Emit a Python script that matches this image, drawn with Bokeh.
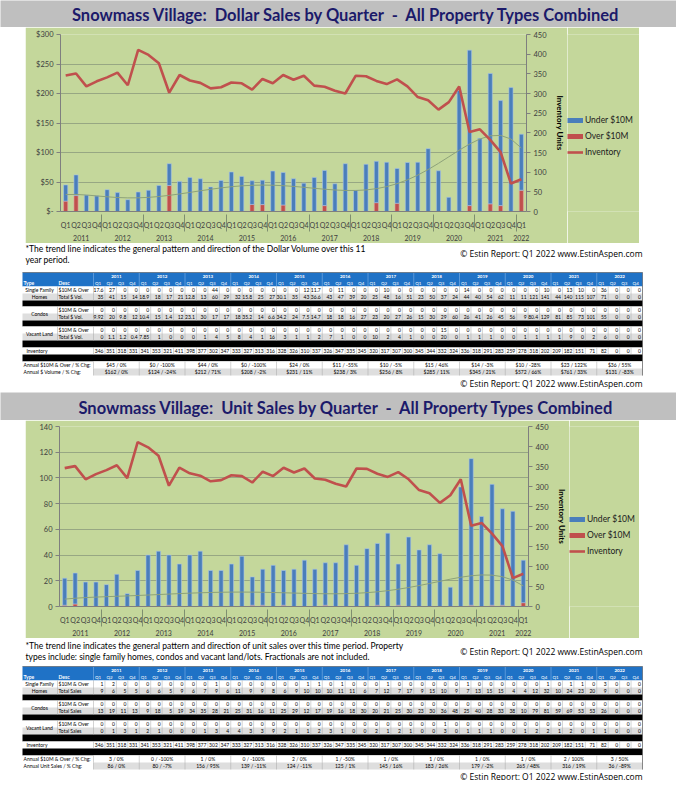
import numpy as np
from bokeh.plotting import figure
from bokeh.models import (Range1d, LinearAxis, FactorRange, FixedTicker, Legend, LegendItem,
                          ColumnDataSource, Spacer)
from bokeh.layouts import column, row
from bokeh.core.properties import value
from bokeh.embed import file_html
from bokeh.resources import INLINE

# ---------------- data ----------------
YEARS = [str(y) for y in range(2011, 2023)]
QUARTERS = ["Q1", "Q2", "Q3", "Q4"]
PERIODS = [(y, q) for y in YEARS for q in QUARTERS][:45]

# Dollar sales ($M) per quarter, all property types
dollar_total = [45, 62, 28, 26.5, 37, 32, 20, 33, 36, 44, 81, 51,
                57.5, 55.5, 41.5, 52.5, 67, 59.5, 52, 53, 68.5, 66, 55.5, 48,
                57.5, 69.5, 47, 81, 36, 80, 85, 83.5, 73, 83, 83.5, 106.5,
                69, 24, 205, 273.5, 124, 234, 188, 210, 131]
dollar_over = [17.6, 27, 0, 0, 0, 0, 0, 0, 0, 0, 44, 0,
               0, 0, 0, 0, 0, 0, 12, 11.7, 0, 11, 0, 0,
               0, 10, 0, 0, 0, 0, 15, 0, 14, 0, 0, 0,
               0, 0, 0, 10, 0, 13, 10, 0, 36]
# Unit sales per quarter
unit_total = [22, 26, 19, 19, 17, 25, 10, 28, 40, 43, 40, 33,
              40, 43, 28, 28, 33, 39, 23, 29, 32, 28, 29, 36,
              29, 34, 34, 48, 32, 45, 49, 57, 33, 54, 44, 48,
              41, 15, 93, 115, 70, 95, 76, 74, 36]
unit_over = [1, 2, 0, 0, 0, 0, 0, 0, 0, 0, 1, 0,
             0, 0, 0, 0, 0, 0, 1, 1, 0, 1, 0, 0,
             0, 1, 0, 0, 0, 0, 1, 0, 1, 0, 0, 0,
             0, 0, 0, 1, 0, 1, 1, 0, 3]
inventory = [346, 351, 318, 331, 341, 353, 321, 411, 398, 377, 302, 347,
             333, 327, 313, 316, 328, 326, 310, 337, 326, 347, 335, 345,
             320, 317, 307, 300, 345, 344, 332, 324, 336, 318, 291, 283,
             259, 278, 318, 202, 209, 182, 151, 71, 82]

# table values (48 columns, 2011 Q1 .. 2022 Q4)
d_sf_over = [17.6, 27, 0, 0, 0, 0, 0, 0, 0, 0, 44, 0, 0, 0, 0, 0, 0, 0, 12, 11.7, 0, 11, 0, 0,
             0, 10, 0, 0, 0, 0, 0, 0, 14, 0, 0, 0, 0, 0, 0, 10, 0, 13, 10, 0, 36, 0, 0, 0]
d_sf_tot = [35, 41, 15, 14, 18.9, 18, 17, 21, 12.8, 13, 60, 29, 32, 15.8, 25, 27, 30.1, 35, 43, 36.6,
            43, 47, 39, 20, 25, 48, 16, 51, 23, 50, 37, 24, 44, 40, 54, 62, 11, 11, 121, 141,
            44, 140, 115, 107, 71, 0, 0, 0]
d_co_over = [0] * 48
d_co_tot = [9.92, 20, 9.8, 12, 10.4, 15, 1.4, 12, 23.1, 30, 17, 17, 18, 35.2, 14, 6.6, 34.2, 24, 7.5, 14.7,
            18, 18, 16, 27, 23, 20, 27, 26, 15, 30, 29, 60, 26, 41, 26, 45, 56, 9, 80.4, 129,
            81, 85, 73, 101, 55, 0, 0, 0]
d_vl_over = [0] * 30 + [15] + [0] * 17
d_vl_tot = [0, 1.1, 1.2, 0.4, 7.85, 1, 0, 0, 0, 1, 4, 5, 8, 4, 1, 16, 3, 1, 1, 2, 7, 1, 0, 0,
            10, 2, 4, 1, 0, 0, 20, 0, 1, 1, 1, 0, 0, 1, 1, 1, 1, 9, 0, 2, 6, 0, 0, 0]
d_ann_over = ["$45 / 0%", "$0 / -100%", "$44 / 0%", "$0 / -100%", "$24 / 0%", "$11 / -55%",
              "$10 / -5%", "$15 / 46%", "$14 / -3%", "$10 / -28%", "$23 / 122%", "$36 / 55%"]
d_ann_tot = ["$162 / 0%", "$124 / -24%", "$212 / 71%", "$208 / -2%", "$231 / 11%", "$238 / 3%",
             "$256 / 8%", "$285 / 11%", "$345 / 21%", "$572 / 66%", "$761 / 33%", "$131 / -83%"]

u_sf_over = [1, 2, 0, 0, 0, 0, 0, 0, 0, 0, 1, 0, 0, 0, 0, 0, 0, 0, 1, 1, 0, 1, 0, 0,
             0, 1, 0, 0, 0, 0, 0, 0, 1, 0, 0, 0, 0, 0, 0, 1, 0, 1, 1, 0, 3, 0, 0, 0]
u_sf_tot = [9, 6, 5, 5, 6, 6, 5, 9, 6, 7, 9, 6, 11, 9, 9, 8, 6, 9, 10, 10, 10, 11, 11, 6,
            7, 12, 7, 17, 9, 15, 10, 9, 7, 13, 15, 15, 4, 4, 12, 32, 10, 24, 23, 20, 9, 0, 0, 0]
u_co_over = [0] * 48
u_co_tot = [13, 19, 11, 13, 9, 18, 5, 19, 34, 35, 28, 21, 25, 31, 16, 11, 25, 29, 12, 17, 19, 16, 18, 30,
            20, 21, 25, 30, 23, 30, 36, 48, 25, 40, 28, 33, 38, 10, 79, 81, 59, 69, 53, 53, 26, 0, 0, 0]
u_vl_over = [0] * 30 + [1] + [0] * 17
u_vl_tot = [0, 1, 3, 1, 2, 1, 0, 0, 0, 1, 3, 4, 4, 3, 3, 9, 2, 1, 1, 2, 3, 1, 0, 0,
            2, 1, 2, 1, 0, 0, 3, 0, 1, 1, 1, 0, 0, 1, 2, 2, 1, 2, 0, 1, 1, 0, 0, 0]
u_ann_over = ["3 / 0%", "0 / -100%", "1 / 0%", "0 / -100%", "2 / 0%", "1 / -50%",
              "1 / 0%", "1 / 0%", "1 / 0%", "1 / 0%", "2 / 100%", "3 / 50%"]
u_ann_tot = ["86 / 0%", "80 / -7%", "156 / 95%", "139 / -11%", "124 / -11%", "125 / 1%",
             "145 / 16%", "183 / 26%", "179 / -2%", "265 / 48%", "316 / 19%", "36 / -89%"]
table_inventory = inventory + [0, 0, 0]

TITLE1 = "Snowmass Village:  Dollar Sales by Quarter  -  All Property Types Combined"
TITLE2 = "Snowmass Village:  Unit Sales by Quarter  -  All Property Types Combined"

# ---------------- style ----------------
GREEN = "#c4d79b"
TITLE_BG = "#bfbfbf"
NAVY = "#1c1a6a"
BLUE = "#4a7ebb"
RED = "#c0504d"
AXIS = "#7f7f7f"
TREND = "#8da27a"
FONTNAME = "Lato"
FONT = value(FONTNAME)
TITLE_W = 676


def title_fig(text, h):
    p = figure(width=TITLE_W, height=h, x_range=Range1d(8, 8 + TITLE_W), y_range=Range1d(0, 1),
               output_backend="svg", toolbar_location=None, title=None,
               x_axis_location=None, y_axis_location=None, min_border=0)
    p.grid.visible = False
    p.outline_line_color = None
    p.background_fill_color = TITLE_BG
    p.border_fill_color = TITLE_BG
    p.text(x=[354], y=[0.45], text=[text.replace("  ", " \u00a0")], text_align="center",
           text_baseline="middle", text_font=FONT, text_font_size="16.5px",
           text_font_style="bold", text_color=NAVY)
    return p


def chart(total, over, ymax, ystep, labels, height, width, b_left, b_right, b_top, b_bottom):
    n = len(total)
    xi = np.arange(1, n + 1) / n
    # polynomial (order 6) trend of the quarterly volume, drawn on the secondary axis as in the original
    trend = np.polyval(np.polyfit(xi, np.array(total, float), 6), xi)
    src = ColumnDataSource(dict(x=PERIODS, over=over, total=total, inv=inventory, trend=trend))
    xr = FactorRange(factors=PERIODS, factor_padding=0, subgroup_padding=0,
                     group_padding=0, range_padding=0)
    p = figure(x_range=xr, y_range=Range1d(0, ymax), width=width, height=height,
               output_backend="svg", toolbar_location=None, title=None,
               min_border_left=b_left, min_border_right=b_right,
               min_border_top=b_top, min_border_bottom=b_bottom)
    p.background_fill_color = GREEN
    p.border_fill_color = GREEN
    p.outline_line_color = None
    p.extra_y_ranges = {"inv": Range1d(0, 450)}

    p.vbar(x="x", bottom=0, top="over", width=0.4, source=src,
           fill_color=RED, line_color="#e3a6a4", line_width=0.6)
    p.vbar(x="x", bottom="over", top="total", width=0.4, source=src,
           fill_color=BLUE, line_color="#a9c4e8", line_width=0.6)
    p.line(x="x", y="trend", source=src, y_range_name="inv", line_color=TREND, line_width=1)
    p.line(x="x", y="inv", source=src, y_range_name="inv", line_color=RED, line_width=2.6)

    ticks = list(range(0, ymax + 1, ystep))
    ya = p.yaxis[0]
    ya.ticker = FixedTicker(ticks=ticks)
    p.ygrid[0].ticker = ya.ticker
    if labels:
        ya.major_label_overrides = labels
    p.ygrid.grid_line_color = "#8c9a7c"
    p.ygrid.grid_line_width = 0.8
    p.xgrid.visible = False

    ra = LinearAxis(y_range_name="inv", ticker=FixedTicker(ticks=list(range(0, 451, 50))),
                    axis_label="Inventory Units")
    p.add_layout(ra, "right")

    for ax in (ya, ra):
        ax.axis_line_color = AXIS
        ax.major_tick_line_color = AXIS
        ax.major_tick_out = 4
        ax.major_tick_in = 0
        ax.minor_tick_line_color = None
        ax.major_label_text_font = FONTNAME
        ax.major_label_text_font_size = "7.5px"
        ax.major_label_text_color = "#404040"
        ax.major_label_standoff = 3
    ra.axis_label_text_font = FONTNAME
    ra.axis_label_text_font_size = "8px"
    ra.axis_label_text_font_style = "bold"
    ra.axis_label_text_color = "#000000"
    ra.axis_label_standoff = 5

    xa = p.xaxis[0]
    xa.axis_line_color = AXIS
    xa.major_tick_line_color = None
    xa.minor_tick_line_color = None
    xa.major_label_orientation = "horizontal"
    xa.group_label_orientation = "horizontal"
    xa.major_label_text_font = FONTNAME
    xa.major_label_text_font_size = "7px"
    xa.major_label_text_color = "#404040"
    xa.major_label_standoff = 3
    xa.group_text_font = FONTNAME
    xa.group_text_font_size = "7px"
    xa.group_text_font_style = "normal"
    xa.group_text_color = "#404040"
    xa.separator_line_color = "#7f8f70"
    xa.separator_line_width = 1
    return p


def legend_fig(width, height, loc):
    p = figure(width=width, height=height, x_range=Range1d(0, 1), y_range=Range1d(0, 1),
               output_backend="svg", toolbar_location=None, title=None,
               x_axis_location=None, y_axis_location=None, min_border=0)
    p.grid.visible = False
    p.outline_line_color = None
    p.background_fill_color = GREEN
    p.border_fill_color = GREEN
    # proxy glyphs placed outside the visible range: they only supply the legend swatches
    r_u = p.line(x=[5, 6], y=[5, 5], line_color=BLUE, line_width=5)
    r_o = p.line(x=[5, 6], y=[5, 5], line_color=RED, line_width=5)
    r_i = p.line(x=[5, 6], y=[5, 5], line_color=RED, line_width=2.6)
    legend = Legend(items=[LegendItem(label=value("Under $10M"), renderers=[r_u]),
                           LegendItem(label=value("Over $10M"), renderers=[r_o]),
                           LegendItem(label=value("Inventory"), renderers=[r_i])],
                    location=loc)
    legend.background_fill_alpha = 0
    legend.border_line_color = None
    legend.label_text_font = FONTNAME
    legend.label_text_font_size = "8.5px"
    legend.label_text_color = "#202020"
    legend.glyph_width = 16
    legend.glyph_height = 6
    legend.label_height = 8
    legend.spacing = 6
    legend.padding = 0
    legend.margin = 0
    legend.label_standoff = 2
    p.add_layout(legend, "center")
    return p


# ---------------- footer / table ----------------
TX0, TX1, TX2, TX3 = 30, 65, 101, 650
CW = (TX3 - TX2) / 48
FOOT_W = 650


def fmt(v):
    if isinstance(v, str):
        return v
    return str(int(v)) if float(v).is_integer() else str(v)


def footer_fig(y0, y1, notes, note_y, copy_ys, table_top, rows, ann_labels, ann_over, ann_tot):
    p = figure(width=FOOT_W, height=int(y1 - y0), x_range=Range1d(8, 8 + FOOT_W), y_range=Range1d(y1, y0),
               output_backend="svg", toolbar_location=None, title=None,
               x_axis_location=None, y_axis_location=None, min_border=0)
    p.grid.visible = False
    p.outline_line_color = None
    p.background_fill_color = "white"
    p.border_fill_color = "white"

    for i, line in enumerate(notes):
        p.text(x=[33], y=[note_y + 11 * i], text=[line], text_font=FONT, text_font_size="8.5px",
               text_baseline="middle", text_color="#000000")
    for cy in copy_ys:
        p.text(x=[650], y=[cy], text=["\u00a9 Estin Report: Q1 2022 www.EstinAspen.com"],
               text_font=value("Open Sans"), text_font_size="8.5px", text_align="right",
               text_baseline="middle", text_color="#000000")

    rects = dict(x=[], y=[], w=[], h=[], c=[])
    texts = {}

    def rect(xa, xb, ya, yb, c):
        rects["x"].append((xa + xb) / 2)
        rects["y"].append((ya + yb) / 2)
        rects["w"].append(xb - xa)
        rects["h"].append(yb - ya)
        rects["c"].append(c)

    def txt(x, y, s, align="left", color="#000000", style="normal", size="5px"):
        key = (align, color, style, size)
        texts.setdefault(key, ([], [], []))
        texts[key][0].append(x)
        texts[key][1].append(y)
        texts[key][2].append(s)

    vx0, vx1, vy0, vy1 = [], [], [], []

    def vline(x, ya, yb):
        vx0.append(x); vx1.append(x); vy0.append(ya); vy1.append(yb)

    hdr = "#1f72c6"
    t = table_top
    rect(TX0, TX3, t, t + 14, hdr)
    for k, yr in enumerate(YEARS):
        txt(TX2 + (4 * k + 2) * CW, t + 3.5, yr, "center", "white", "bold", "4.5px")
    txt(TX0 + 1, t + 10.5, "Type", "left", "white", "bold", "5px")
    txt(TX1 + 1, t + 10.5, "Desc", "left", "white", "bold", "5px")
    for c in range(48):
        txt(TX2 + c * CW + 1.5, t + 10.5, QUARTERS[c % 4], "left", "white", "normal", "4.5px")
    sep = [TX2 + c * CW for c in range(0, 49, 4)]

    y = t + 14
    for kind, a, b in rows:
        if kind == "black":
            rect(TX0, TX3, y, y + a, "#000000")
            y += a
            continue
        if kind == "pair":
            label, (d1, v1), (d2, v2) = a, b[0], b[1]
            rect(TX0, TX3, y, y + 7, "#ffffff")
            rect(TX0, TX3, y + 7, y + 14, "#dedede")
            if len(label) == 1:
                txt(47, y + 7, label[0], "center")
            else:
                txt(47, y + 3.5, label[0], "center")
                txt(47, y + 10.5, label[1], "center")
            txt(TX1 + 1, y + 3.5, d1)
            txt(TX1 + 1, y + 10.5, d2)
            for c in range(48):
                txt(TX2 + (c + 1) * CW - 1.5, y + 3.5, fmt(v1[c]), "right")
                txt(TX2 + (c + 1) * CW - 1.5, y + 10.5, fmt(v2[c]), "right")
            for c in range(49):
                vline(TX2 + c * CW, y, y + 14)
            vline(TX1, y, y + 14)
            y += 14
            continue
        if kind == "inv":
            rect(TX0, TX3, y, y + 7, "#ffffff")
            txt(TX0 + 4, y + 3.5, "Inventory")
            for c in range(48):
                txt(TX2 + (c + 1) * CW - 1.5, y + 3.5, fmt(a[c]), "right")
                vline(TX2 + c * CW, y, y + 7)
            vline(TX3, y, y + 7)
            y += 7
            continue
    for r, (lab, vals, bg) in enumerate([(ann_labels[0], ann_over, "#ffffff"),
                                          (ann_labels[1], ann_tot, "#dedede")]):
        rect(TX0, TX3, y, y + 7, "#ffffff")
        rect(TX2, TX3, y, y + 7, bg)
        txt(TX0 + 1, y + 3.5, lab)
        for k in range(12):
            txt(TX2 + (4 * k + 2) * CW, y + 3.5, vals[k], "center")
            vline(TX2 + 4 * k * CW, y, y + 7)
        vline(TX3, y, y + 7)
        y += 7

    p.rect(x="x", y="y", width="w", height="h", fill_color="c", line_color=None,
           source=ColumnDataSource(rects))
    p.segment(x0=sep, x1=sep, y0=[t] * len(sep), y1=[t + 14] * len(sep),
              line_color="#7fb0e6", line_width=0.6)
    p.segment(x0=vx0, x1=vx1, y0=vy0, y1=vy1, line_color="#a6a6a6", line_width=0.5)
    p.segment(x0=[TX0, TX3], x1=[TX3, TX3], y0=[t, t], y1=[t, y], line_color="#555555", line_width=0.6)
    for (align, color, style, size), (xs, ys, ss) in texts.items():
        p.text(x=xs, y=ys, text=ss, text_align=align, text_baseline="middle", text_color=color,
               text_font=FONT, text_font_style=style, text_font_size=size)
    return p


# ---------------- assemble ----------------
dollar_labels = {0: "$-", 50: "$50", 100: "$100", 150: "$150", 200: "$200", 250: "$250", 300: "$300"}

title1 = title_fig(TITLE1, 27)
chart1 = chart(dollar_total, dollar_over, 300, 50, dollar_labels, 216, 542, 35, 34, 7, 32)
legend1 = legend_fig(72, 216, (0, 54))
foot1 = footer_fig(243, 392,
                   ["*The trend line indicates the general pattern and direction of the Dollar Volume over this 11",
                    "year period."], 248, [253, 383], 272,
                   [("pair", ["Single Family", "Homes"], [("$10M & Over", d_sf_over), ("Total $ Vol.", d_sf_tot)]),
                    ("black", 6, None),
                    ("pair", ["Condos"], [("$10M & Over", d_co_over), ("Total $ Vol.", d_co_tot)]),
                    ("black", 6, None),
                    ("pair", ["Vacant Land"], [("$10M & Over", d_vl_over), ("Total $ Vol.", d_vl_tot)]),
                    ("black", 7, None),
                    ("inv", table_inventory, None),
                    ("black", 7, None)],
                   ["Annual $10M & Over / % Chg:", "Annual $ Volume / % Chg:"], d_ann_over, d_ann_tot)

title2 = title_fig(TITLE2, 28)
chart2 = chart(unit_total, unit_over, 140, 20, None, 218, 544, 34, 34, 6, 25)
legend2 = legend_fig(70, 218, (0, 50))
foot2 = footer_fig(638, 780,
                   ["*The trend line indicates the general pattern and direction of unit sales over this time period. Property",
                    "types include: single family homes, condos and vacant land/lots. Fractionals are not included."],
                   645, [651, 776], 666,
                   [("pair", ["Single Family", "Homes"], [("$10M & Over", u_sf_over), ("Total Sales", u_sf_tot)]),
                    ("black", 6, None),
                    ("pair", ["Condos"], [("$10M & Over", u_co_over), ("Total Sales", u_co_tot)]),
                    ("black", 6, None),
                    ("pair", ["Vacant Land"], [("$10M & Over", u_vl_over), ("Total Sales", u_vl_tot)]),
                    ("black", 7, None),
                    ("inv", table_inventory, None),
                    ("black", 7, None)],
                   ["Annual $10M & Over / % Chg:", "Annual Unit Sales / % Chg:"], u_ann_over, u_ann_tot)

layout = column(title1,
                row(Spacer(width=25, height=216), chart1, legend1),
                foot1,
                title2,
                row(Spacer(width=25, height=218), chart2, legend2),
                foot2)

open("out.html", "w").write(file_html(layout, INLINE))
